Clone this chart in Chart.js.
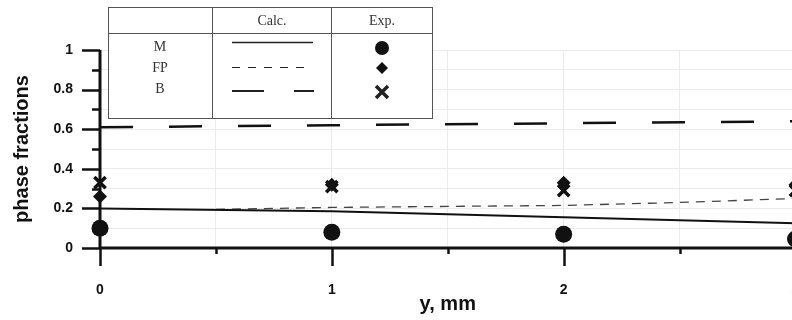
<!DOCTYPE html>
<html>
<head>
<meta charset="utf-8">
<script src="https://cdn.jsdelivr.net/npm/chart.js@4/dist/chart.umd.min.js"></script>
<style>
  html, body { margin:0; padding:0; background:#fff; overflow:hidden; }
  #wrap { width:807px; height:320px; }
</style>
</head>
<body>
<div id="wrap"><canvas id="chart" width="807" height="320"></canvas></div>
<script>
// y, mm positions of the experiments
const expX = [0, 1, 2, 3];
const mExp = [0.10, 0.08, 0.07, 0.045];
const fpExp = [0.26, 0.32, 0.33, 0.32];
const bExp = [0.33, 0.31, 0.29, 0.29];

// calculated curves
const mCalcX = [0, 1, 2, 3];
const mCalc = [0.20, 0.185, 0.155, 0.125];
const fpCalcX = [0.5, 1, 1.5, 2, 2.5, 3];
const fpCalc = [0.195, 0.205, 0.21, 0.215, 0.23, 0.25];
const bCalcX = [0, 1, 2, 3];
const bCalc = [0.61, 0.62, 0.63, 0.64];

const yTickLabels = ['0', '0.2', '0.4', '0.6', '0.8', '1'];
const xTickLabels = ['0', '1', '2', '3'];

const pts = (xs, ys) => xs.map((x, i) => ({ x, y: ys[i] }));
const sans = '"Liberation Sans", Arial, sans-serif';
const serif = '"Liberation Serif", "Times New Roman", serif';

// axis ticks (major + minor) like the original plot
const tickPlugin = {
  id: 'ticks',
  afterDatasetsDraw(chart) {
    const { ctx, scales: { x, y } } = chart;
    ctx.save();
    ctx.strokeStyle = '#111';
    ctx.lineWidth = 2.5;
    const x0 = x.getPixelForValue(0), y0 = y.getPixelForValue(0);
    for (let i = 0; i <= 10; i++) {
      const py = Math.round(y.getPixelForValue(i / 10)) + 0.5;
      const len = i % 2 === 0 ? 18 : 8;
      ctx.beginPath(); ctx.moveTo(x0 - len, py); ctx.lineTo(x0, py); ctx.stroke();
    }
    for (let i = 0; i <= 6; i++) {
      const px = Math.round(x.getPixelForValue(i / 2)) + 0.5;
      const len = i % 2 === 0 ? 18 : 6;
      ctx.beginPath(); ctx.moveTo(px, y0); ctx.lineTo(px, y0 + len); ctx.stroke();
    }
    // axis lines
    ctx.lineWidth = 3;
    ctx.beginPath(); ctx.moveTo(x0, y.getPixelForValue(1)); ctx.lineTo(x0, y0); ctx.stroke();
    ctx.beginPath(); ctx.moveTo(x0, y0); ctx.lineTo(chart.width, y0); ctx.stroke();
    ctx.restore();
  }
};

// table-style legend in the upper left
const tableLegend = {
  id: 'tableLegend',
  afterDraw(chart) {
    const ctx = chart.ctx;
    const L = 108.5, R = 432.5, T = 7.5, B = 118.5, c1 = 212.5, c2 = 331.5, h = 33.5;
    ctx.save();
    ctx.fillStyle = '#fff';
    ctx.fillRect(L, T, R - L, B - T);
    ctx.strokeStyle = '#555';
    ctx.lineWidth = 1;
    ctx.strokeRect(L, T, R - L, B - T);
    ctx.beginPath();
    ctx.moveTo(c1, T); ctx.lineTo(c1, B);
    ctx.moveTo(c2, T); ctx.lineTo(c2, B);
    ctx.moveTo(L, h); ctx.lineTo(R, h);
    ctx.stroke();
    ctx.fillStyle = '#333';
    ctx.font = '14px ' + serif;
    ctx.textAlign = 'center';
    ctx.textBaseline = 'middle';
    ctx.fillText('Calc.', 272, 21);
    ctx.fillText('Exp.', 382, 21);
    const rows = [['M', 47], ['FP', 68], ['B', 89]];
    rows.forEach(([t, yy]) => ctx.fillText(t, 160, yy));
    ctx.strokeStyle = '#222';
    // solid
    ctx.lineWidth = 1.5;
    ctx.beginPath(); ctx.moveTo(232, 42.5); ctx.lineTo(313, 42.5); ctx.stroke();
    // short dash
    ctx.lineWidth = 1;
    ctx.setLineDash([8, 8]);
    ctx.beginPath(); ctx.moveTo(232, 67.5); ctx.lineTo(307, 67.5); ctx.stroke();
    // long dash
    ctx.lineWidth = 2;
    ctx.setLineDash([32, 30]);
    ctx.beginPath(); ctx.moveTo(232, 91); ctx.lineTo(314, 91); ctx.stroke();
    ctx.setLineDash([]);
    // markers
    ctx.fillStyle = '#111';
    ctx.beginPath(); ctx.arc(382, 48, 7, 0, Math.PI * 2); ctx.fill();
    ctx.beginPath();
    ctx.moveTo(382, 62); ctx.lineTo(388, 68); ctx.lineTo(382, 74); ctx.lineTo(376, 68);
    ctx.closePath(); ctx.fill();
    ctx.lineWidth = 3.5;
    ctx.beginPath();
    ctx.moveTo(376, 86); ctx.lineTo(388, 98);
    ctx.moveTo(388, 86); ctx.lineTo(376, 98);
    ctx.stroke();
    ctx.restore();
  }
};

const ctx = document.getElementById('chart').getContext('2d');
new Chart(ctx, {
  type: 'scatter',
  data: {
    datasets: [
      { label: 'M calc', data: pts(mCalcX, mCalc), showLine: true, borderColor: '#111',
        borderWidth: 2, pointRadius: 0, clip: false },
      { label: 'FP calc', data: pts(fpCalcX, fpCalc), showLine: true, borderColor: '#444',
        borderWidth: 1.3, borderDash: [9, 7], pointRadius: 0, clip: false },
      { label: 'B calc', data: pts(bCalcX, bCalc), showLine: true, borderColor: '#111',
        borderWidth: 2.5, borderDash: [33, 36], pointRadius: 0, clip: false },
      { label: 'M exp', data: pts(expX, mExp), pointStyle: 'circle', pointRadius: 8.5,
        backgroundColor: '#111', borderColor: '#111', borderWidth: 0, clip: false },
      { label: 'FP exp', data: pts(expX, fpExp), pointStyle: 'rectRot', pointRadius: 7,
        backgroundColor: '#111', borderColor: '#111', borderWidth: 0, clip: false },
      { label: 'B exp', data: pts(expX, bExp), pointStyle: 'crossRot', pointRadius: 8,
        backgroundColor: '#111', borderColor: '#111', borderWidth: 3.5, clip: false }
    ]
  },
  options: {
    animation: false,
    responsive: false,
    layout: { padding: { top: 50, right: 5, left: 0, bottom: 0 } },
    plugins: { legend: { display: false }, tooltip: { enabled: false } },
    scales: {
      x: {
        type: 'linear', min: 0, max: 3,
        afterFit: s => { s.height = 72; s.paddingLeft = 0; s.paddingRight = 0; },
        border: { display: false },
        grid: { color: '#ebebeb', lineWidth: 1, drawTicks: false },
        ticks: {
          stepSize: 0.5, padding: 34, color: '#111', maxRotation: 0, autoSkip: false,
          font: { family: sans, size: 14, weight: 'bold' },
          callback: v => (Math.round(v * 2) % 2 === 0 ? xTickLabels[Math.round(v)] : '')
        },
        title: { display: true, text: 'y, mm', color: '#111', padding: { top: 0, bottom: 4 },
          font: { family: sans, size: 20, weight: 'bold' } }
      },
      y: {
        min: 0, max: 1,
        afterFit: s => { s.width = 100; s.paddingTop = 0; s.paddingBottom = 0; },
        border: { display: false },
        grid: { color: '#ebebeb', lineWidth: 1, drawTicks: false },
        ticks: {
          stepSize: 0.1, padding: 27, color: '#111', autoSkip: false,
          font: { family: sans, size: 14, weight: 'bold' },
          callback: v => { const k = Math.round(v * 10); return k % 2 === 0 ? yTickLabels[k / 2] : ''; }
        },
        title: { display: true, text: 'phase fractions', color: '#111', padding: { top: 10, bottom: 0 },
          font: { family: sans, size: 20, weight: 'bold' } }
      }
    }
  },
  plugins: [tickPlugin, tableLegend]
});
</script>
</body>
</html>
